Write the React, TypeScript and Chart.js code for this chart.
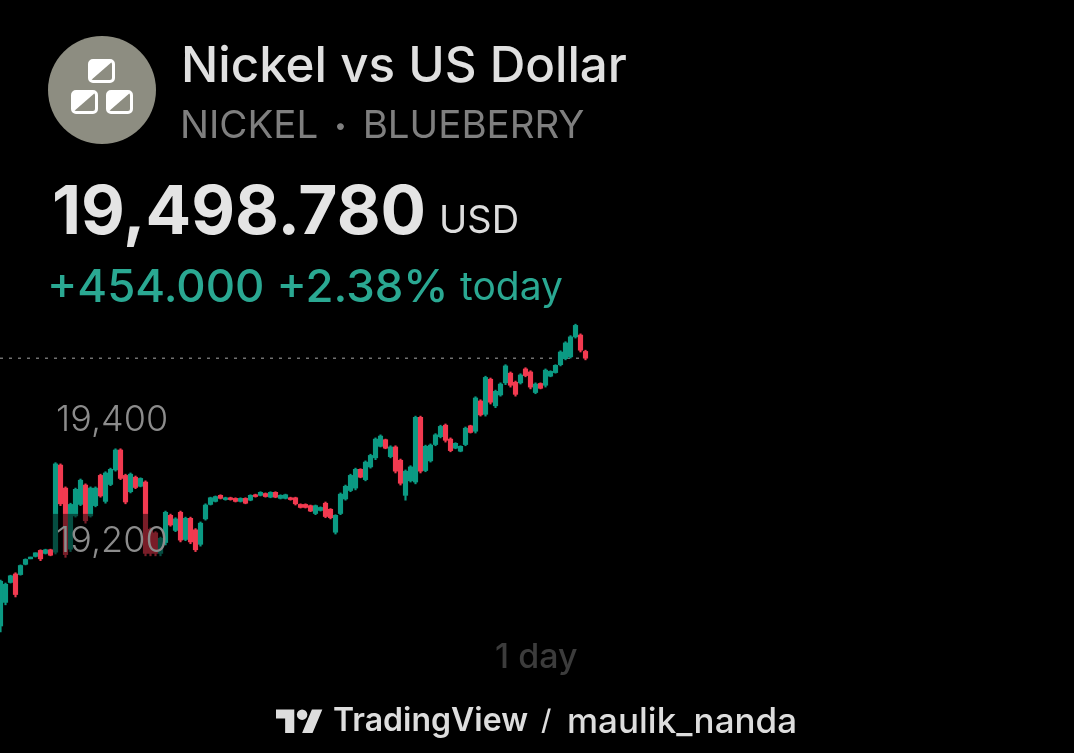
import React, { useEffect, useRef } from "react";
import { Chart, registerables } from "chart.js";

Chart.register(...registerables);

const highs = [19132,19127,19140,19144,19157,19167,19170,19177,19182,19183,19183,19326,19324,19286,19259,19284,19299,19291,19286,19286,19307,19311,19317,19349,19349,19307,19309,19304,19301,19296,19218,19212,19203,19246,19241,19235,19246,19236,19236,19217,19228,19258,19269,19271,19273,19269,19269,19268,19268,19268,19273,19274,19278,19276,19278,19278,19273,19274,19269,19269,19258,19258,19256,19256,19253,19261,19250,19240,19276,19289,19307,19317,19316,19329,19340,19367,19372,19365,19354,19354,19332,19314,19321,19403,19403,19355,19357,19374,19388,19390,19367,19359,19354,19385,19388,19435,19430,19469,19466,19446,19458,19488,19476,19461,19473,19483,19478,19458,19458,19481,19478,19488,19511,19526,19536,19555,19539,19512];
const lows = [19046,19091,19127,19104,19140,19157,19167,19170,19164,19175,19172,19175,19255,19170,19179,19236,19255,19226,19236,19253,19269,19259,19288,19312,19298,19258,19276,19283,19286,19172,19172,19172,19172,19190,19221,19212,19195,19197,19192,19179,19188,19231,19256,19261,19266,19264,19264,19261,19261,19258,19263,19269,19271,19269,19268,19268,19266,19266,19264,19256,19251,19251,19245,19240,19246,19235,19233,19208,19240,19264,19278,19281,19301,19296,19317,19331,19352,19349,19334,19309,19289,19264,19294,19291,19309,19311,19327,19354,19367,19360,19344,19349,19344,19354,19375,19375,19403,19403,19423,19417,19436,19455,19451,19436,19456,19468,19448,19440,19448,19451,19468,19474,19486,19496,19499,19532,19509,19496];
const opens = [19056,19095,19128,19142,19141,19158,19167,19171,19181,19176,19182,19178,19322,19284,19183,19238,19257,19289,19238,19255,19305,19262,19290,19314,19347,19305,19278,19302,19287,19294,19216,19210,19176,19194,19239,19214,19244,19199,19234,19215,19191,19233,19257,19262,19272,19265,19268,19267,19262,19267,19264,19273,19272,19275,19269,19277,19267,19267,19268,19268,19257,19257,19255,19242,19247,19259,19249,19211,19242,19266,19280,19284,19315,19298,19319,19334,19353,19364,19336,19352,19330,19272,19296,19294,19401,19313,19329,19356,19369,19388,19365,19350,19345,19356,19387,19378,19428,19406,19464,19420,19438,19458,19474,19459,19458,19481,19476,19442,19457,19454,19469,19475,19488,19498,19501,19534,19537,19510];
const closes = [19130,19125,19139,19108,19156,19166,19170,19177,19167,19182,19173,19324,19258,19174,19257,19282,19297,19230,19284,19284,19271,19309,19315,19347,19300,19261,19307,19285,19300,19176,19176,19176,19201,19244,19223,19233,19198,19234,19195,19182,19226,19256,19268,19270,19267,19268,19265,19262,19267,19259,19272,19270,19277,19270,19277,19269,19272,19273,19265,19258,19252,19252,19246,19255,19252,19237,19235,19239,19274,19287,19305,19315,19302,19327,19338,19365,19370,19350,19352,19312,19292,19312,19319,19401,19312,19353,19355,19372,19386,19363,19346,19358,19353,19383,19376,19433,19405,19467,19426,19444,19456,19486,19454,19439,19471,19470,19451,19456,19449,19479,19477,19487,19509,19524,19534,19553,19512,19498.78];
const lastPrice = [19498.78];
const priceTicks = [19200, 19400];

const UP = "#0b9a83";
const DOWN = "#f23a50";

const labelPlugin = {
  id: "priceLabels",
  afterDatasetsDraw(chart: any) {
    const { ctx, scales } = chart;
    const mid = scales.y.getPixelForValue(priceTicks[0]);
    ctx.save();
    ctx.fillStyle = "rgba(0,0,0,0.5)";
    ctx.fillRect(53, mid - 25, 110, 43);
    ctx.font = "300 36px Inter";
    ctx.fillStyle = "#8c8c8c";
    ctx.textBaseline = "middle";
    ctx.textAlign = "left";
    priceTicks.forEach((value) => {
      ctx.fillText(value.toLocaleString("en-US"), 56, scales.y.getPixelForValue(value) + 2);
    });
    ctx.restore();
  },
};

const abs = (left: number, top: number, extra: React.CSSProperties): React.CSSProperties => ({
  position: "absolute",
  left,
  top,
  whiteSpace: "nowrap",
  lineHeight: 1,
  fontFamily: "Inter, sans-serif",
  ...extra,
});

function Square({ x, y }: { x: number; y: number }) {
  return (
    <g transform={`translate(${x} ${y})`}>
      <path d="M2 2 H25 L2 22 Z" fill="#ffffff" />
      <rect x="1.5" y="1.5" width="24" height="21" rx="3.5" fill="none" stroke="#ffffff" strokeWidth="3" />
    </g>
  );
}

export default function App() {
  const ref = useRef<HTMLCanvasElement>(null);

  useEffect(() => {
    document.body.style.margin = "0";
    document.body.style.background = "#000";
    const colors = closes.map((c, i) => (c >= opens[i] ? UP : DOWN));
    const chart = new Chart(ref.current!, {
      type: "bar",
      data: {
        datasets: [
          {
            type: "line",
            data: [
              { x: -0.1, y: lastPrice[0] },
              { x: closes.length - 1, y: lastPrice[0] },
            ],
            borderColor: "#a8a8a8",
            borderWidth: 1,
            borderDash: [3, 6],
            pointRadius: 0,
            order: 3,
          },
          {
            type: "bar",
            data: highs.map((h, i) => ({ x: i, y: [lows[i], h] })),
            backgroundColor: colors,
            barThickness: 1.5,
            grouped: false,
            order: 2,
          },
          {
            type: "bar",
            data: opens.map((o, i) => ({ x: i, y: [o, closes[i]] })),
            backgroundColor: colors,
            barThickness: 4.5,
            grouped: false,
            order: 1,
          },
        ] as any,
      },
      options: {
        responsive: false,
        animation: false,
        layout: { padding: 0 },
        plugins: { legend: { display: false }, tooltip: { enabled: false }, title: { display: false } },
        scales: {
          x: { type: "linear", min: -0.1, max: 214.7, display: false, offset: false, grid: { offset: false } },
          y: { type: "linear", min: 18846, max: 20091, display: false, offset: false },
        },
      } as any,
      plugins: [labelPlugin],
    });
    return () => chart.destroy();
  }, []);

  return (
    <div style={{ position: "fixed", left: 0, top: 0, width: 1074, height: 753, background: "#000", overflow: "hidden" }}>
      <canvas ref={ref} width={1074} height={753} style={{ position: "absolute", left: 0, top: 0, width: 1074, height: 753 }} />

      <svg style={{ position: "absolute", left: 48, top: 36 }} width={108} height={108} viewBox="0 0 108 108">
        <circle cx="54" cy="54" r="54" fill="#8d8d81" />
        <Square x={40} y={23} />
        <Square x={23} y={54} />
        <Square x={58} y={54} />
      </svg>

      <div style={abs(181, 40, { fontSize: 49.3, fontWeight: 500, color: "#e0e0e0" })}>Nickel vs US Dollar</div>
      <div style={abs(180, 105, { fontSize: 38.5, fontWeight: 400, color: "#7f7f7f" })}>NICKEL<span style={{ fontSize: 22, margin: "0 16px", verticalAlign: 5 }}>•</span>BLUEBERRY</div>
      <div style={abs(52, 176, { fontSize: 67.5, fontWeight: 700, color: "#e4e4e4" })}>19,498.780</div>
      <div style={abs(439, 200, { fontSize: 38, fontWeight: 400, color: "#dddddd" })}>USD</div>
      <div style={abs(47, 263, { fontSize: 45.5, fontWeight: 500, color: "#2aa892" })}>+454.000 +2.38%</div>
      <div style={abs(460, 266, { fontSize: 39, fontWeight: 400, color: "#2aa892" })}>today</div>
      <div style={abs(495, 639, { fontSize: 34, fontWeight: 500, color: "#3c3c3c" })}>1 day</div>

      <svg style={{ position: "absolute", left: 276, top: 704 }} width={47} height={37} viewBox="0 0 36 28">
        <path d="M14 22H7V11H0V4h14v18zM28 22h-8l7.5-18h8L28 22z" fill="#dddddd" />
        <circle cx="20" cy="8" r="4" fill="#dddddd" />
      </svg>
      <div style={abs(333, 704, { fontSize: 32, fontWeight: 600, color: "#dddddd" })}>TradingView</div>
      <div style={abs(541, 706, { fontSize: 28, fontWeight: 500, color: "#dddddd" })}>/</div>
      <div style={abs(567, 703, { fontSize: 35, fontWeight: 500, color: "#dddddd" })}>maulik_nanda</div>
    </div>
  );
}
